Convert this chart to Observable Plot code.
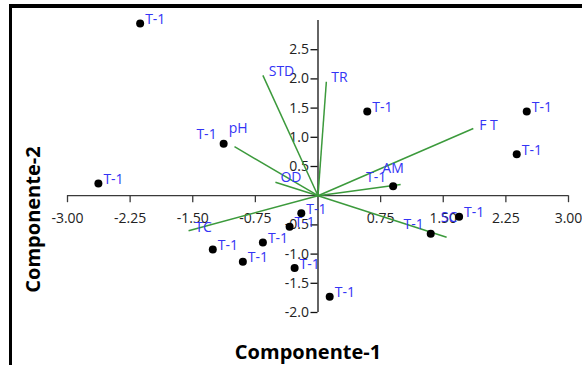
<!DOCTYPE html>
<html>
<head>
<meta charset="utf-8">
<script src="https://cdn.jsdelivr.net/npm/d3@7"></script>
<script src="https://cdn.jsdelivr.net/npm/@observablehq/plot@0.6"></script>
<style>
  html, body { margin: 0; padding: 0; background: #fff; }
  #frame { position: absolute; left: 9px; top: 4px; width: 573px; height: 361px;
           border-top: 4px solid #000; border-left: 3px solid #000; box-sizing: border-box; }
  #chart { position: absolute; left: 12px; top: 8px; }
</style>
</head>
<body>
<div id="frame"></div>
<div id="chart"></div>
<script>
// Observations (scores)
const obsX = [-2.13, -2.63, -1.13, 0.59, 2.50, 2.38, 0.90, 1.35, 1.69, -0.20, -0.34, -0.66, -1.26, -0.90, -0.28, 0.14];
const obsY = [2.95, 0.21, 0.89, 1.44, 1.44, 0.71, 0.16, -0.65, -0.36, -0.30, -0.53, -0.80, -0.92, -1.13, -1.24, -1.73];
const obsLabel = ["T-1","T-1","T-1","T-1","T-1","T-1","T-1","T-1","T-1","T-1","T-1","T-1","T-1","T-1","T-1","T-1"];
const leftLabelled = [2, 6, 7];

// Variables (loadings)
const varNames = ["STD", "TR", "F T", "AM", "pH", "OD", "TC", "SC"];
const varX = [-0.66, 0.10, 1.86, 0.99, -1.00, -0.51, -1.55, 1.54];
const varY = [2.06, 1.95, 1.15, 0.19, 0.84, 0.23, -0.60, -0.71];
const varLabelX = [-0.59, 0.16, 1.93, 0.77, -1.07, -0.45, -1.47, 1.47];
const varLabelY = [2.13, 2.02, 1.20, 0.47, 1.15, 0.31, -0.54, -0.37];

// Axes
const xTicks = [-3, -2.25, -1.5, -0.75, 0.75, 1.5, 2.25, 3];
const yTicks = [-2, -1.5, -1, -0.5, 0.5, 1, 1.5, 2, 2.5];
const xTitle = "Componente-1";
const yTitle = "Componente-2";

const obs = obsX.map((x, i) => ({x, y: obsY[i], label: obsLabel[i], left: leftLabelled.includes(i)}));
const vars = varNames.map((name, i) => ({name, x: varX[i], y: varY[i], lx: varLabelX[i], ly: varLabelY[i]}));

const blue = "#3434f5";
const green = "#3c9a3c";
const axisColor = "#3a3a3a";

const chart = Plot.plot({
  width: 570,
  height: 357,
  marginLeft: 55,
  marginRight: 14,
  marginTop: 12,
  marginBottom: 53,
  x: {domain: [-3, 3], axis: null},
  y: {domain: [-2, 3], axis: null},
  style: {fontFamily: "'Open Sans', sans-serif", fontSize: "14px", background: "transparent", overflow: "visible"},
  marks: [
    // axis lines through origin
    Plot.ruleY([0], {x1: -3, x2: 3, stroke: axisColor, strokeWidth: 1.3}),
    Plot.ruleX([0], {y1: -2, y2: 3, stroke: "#111", strokeWidth: 1.3}),
    // tick marks
    Plot.ruleX(xTicks, {x: d => d, y1: 0, y2: 0, insetBottom: -7, stroke: axisColor, strokeWidth: 1.3}),
    Plot.ruleY(yTicks, {y: d => d, x1: 0, x2: 0, insetLeft: -7, stroke: "#111", strokeWidth: 1.3}),
    // tick labels
    Plot.text(xTicks, {x: d => d, y: 0, text: d => d.toFixed(2), dy: 23, fill: "#222", fontSize: 14}),
    Plot.text(yTicks, {x: 0, y: d => d, text: d => d.toFixed(1), dx: -9, textAnchor: "end", fill: "#222", fontSize: 14}),
    // loading vectors
    Plot.link(vars, {x1: 0, y1: 0, x2: "x", y2: "y", stroke: green, strokeWidth: 1.5}),
    // observation points
    Plot.dot(obs, {x: "x", y: "y", r: 4, fill: "#000"}),
    // observation labels
    Plot.text(obs.filter(d => !d.left), {x: "x", y: "y", text: "label", dx: 5, dy: -4, textAnchor: "start", fill: blue, fontSize: 14}),
    Plot.text(obs.filter(d => d.left), {x: "x", y: "y", text: "label", dx: -7, dy: -9, textAnchor: "end", fill: blue, fontSize: 14}),
    // variable labels
    Plot.text(vars, {x: "lx", y: "ly", text: "name", textAnchor: "start", fill: blue, fontSize: 14}),
    // axis titles
    Plot.text([xTitle], {frameAnchor: "bottom", text: d => d, textAnchor: "middle", lineAnchor: "middle", dx: -10, dy: 40, fontWeight: "bold", fontSize: 20, fill: "#000"}),
    Plot.text([yTitle], {frameAnchor: "left", text: d => d, rotate: -90, textAnchor: "middle", lineAnchor: "middle", dx: -34, dy: 53, fontWeight: "bold", fontSize: 20, fill: "#000"})
  ]
});
document.getElementById("chart").appendChild(chart);
</script>
</body>
</html>
